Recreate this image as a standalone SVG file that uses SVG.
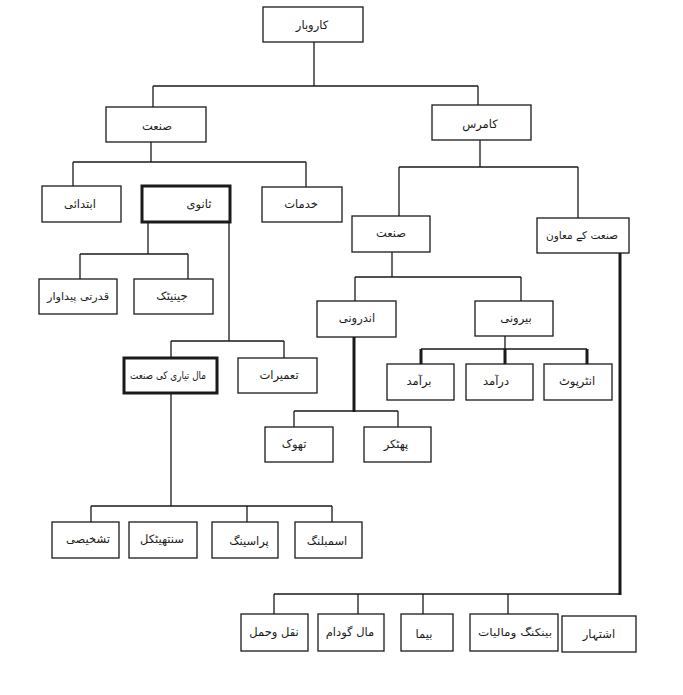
<svg xmlns="http://www.w3.org/2000/svg" width="683" height="695" viewBox="0 0 683 695">
<style>
.bg{fill:#ffffff}
.box rect{fill:#ffffff;stroke:#1a1a1a;stroke-width:1.3}
.box.thick rect{stroke-width:3}
.box text{font-family:"DejaVu Sans",sans-serif;font-size:11.5px;fill:#1a1a1a;text-anchor:middle;direction:rtl}
.box text.long{font-size:10.5px}
#connectors path{fill:none;stroke:#1a1a1a;stroke-width:1.3}
#connectors path.heavy{stroke-width:3}
</style>
<rect class="bg" x="0" y="0" width="683" height="695"/>
<g id="connectors">
<path d="M314,42V86M153,86H478M153,86V107M478,86V105"/>
<path d="M151,142V162M73,162H306M73,162V186M306,162V187"/>
<path d="M480,140V167M399,167H578M399,167V216M578,167V218"/>
<path d="M148,222V254M80,254H188M80,254V279M188,254V279"/>
<path d="M229,222V341M171,341H284M171,341V358M284,341V358"/>
<path d="M392,252V277M355,277H521M355,277V301M521,277V301"/>
<path class="heavy" d="M354,337V412"/>
<path d="M294,411H398M294,411V427M398,411V427"/>
<path d="M505,336V349M421,349H587"/>
<path class="heavy" d="M421,349V364M505,349V364M587,349V364"/>
<path d="M171,393V506M91,506H332M91,506V522M247,506V522M332,506V522"/>
<path class="heavy" d="M620,253V595"/>
<path d="M274,594H620M274,594V614M358,594V614M423,594V614M508,594V614"/>
</g>
<g id="n-karobar" class="box"><rect x="263" y="7" width="100" height="35"/><text x="312" y="29">کاروبار</text></g>
<g id="n-sanat" class="box"><rect x="106" y="107" width="100" height="35"/><text x="157" y="130">صنعت</text></g>
<g id="n-commerce" class="box"><rect x="432" y="105" width="99" height="35"/><text x="480" y="128">کامرس</text></g>
<g id="n-ibtidai" class="box"><rect x="42" y="186" width="79" height="36"/><text x="80" y="208">ابتدائی</text></g>
<g id="n-sanvi" class="box thick"><rect x="142" y="186" width="88" height="36"/><text x="199" y="208">ثانوی</text></g>
<g id="n-khidmat" class="box"><rect x="262" y="187" width="80" height="35"/><text x="301" y="208">خدمات</text></g>
<g id="n-sanat2" class="box"><rect x="352" y="216" width="78" height="36"/><text x="391" y="237">صنعت</text></g>
<g id="n-muawin" class="box"><rect x="537" y="218" width="92" height="35"/><text class="long" x="582" y="239" textLength="72" lengthAdjust="spacingAndGlyphs">صنعت کے معاون</text></g>
<g id="n-qudrati" class="box"><rect x="39" y="279" width="78" height="35"/><text class="long" x="78" y="300" textLength="62" lengthAdjust="spacingAndGlyphs">قدرتی پیداوار</text></g>
<g id="n-genetic" class="box"><rect x="134" y="279" width="79" height="35"/><text x="172" y="300">جینیٹک</text></g>
<g id="n-androoni" class="box"><rect x="317" y="301" width="79" height="36"/><text x="357" y="322">اندرونی</text></g>
<g id="n-beroni" class="box"><rect x="475" y="301" width="78" height="35"/><text x="516" y="322">بیرونی</text></g>
<g id="n-maaltiyari" class="box thick"><rect x="124" y="358" width="93" height="35"/><text class="long" x="168" y="379" textLength="76" lengthAdjust="spacingAndGlyphs">مال تیاری کی صنعت</text></g>
<g id="n-tameerat" class="box"><rect x="238" y="358" width="79" height="35"/><text x="279" y="379">تعمیرات</text></g>
<g id="n-baramad" class="box"><rect x="387" y="364" width="67" height="36"/><text x="419" y="385">برآمد</text></g>
<g id="n-daramad" class="box"><rect x="466" y="364" width="67" height="36"/><text x="496" y="385">درآمد</text></g>
<g id="n-interport" class="box"><rect x="544" y="364" width="68" height="36"/><text x="577" y="385">انٹرپوٹ</text></g>
<g id="n-thok" class="box"><rect x="265" y="427" width="68" height="35"/><text x="294" y="448">تھوک</text></g>
<g id="n-phutkar" class="box"><rect x="364" y="427" width="67" height="35"/><text x="396" y="448">پھٹکر</text></g>
<g id="n-tashkheesi" class="box"><rect x="52" y="522" width="67" height="36"/><text x="88" y="543">تشخیصی</text></g>
<g id="n-synthetical" class="box"><rect x="129" y="522" width="68" height="36"/><text x="162" y="543">سنتھیٹکل</text></g>
<g id="n-processing" class="box"><rect x="212" y="522" width="66" height="36"/><text x="249" y="545">پراسینگ</text></g>
<g id="n-assembling" class="box"><rect x="295" y="522" width="67" height="36"/><text x="327" y="545">اسمبلنگ</text></g>
<g id="n-naqlohamal" class="box"><rect x="241" y="614" width="67" height="37"/><text x="274" y="636">نقل وحمل</text></g>
<g id="n-maalgodam" class="box"><rect x="318" y="614" width="66" height="37"/><text x="350" y="636">مال گودام</text></g>
<g id="n-beema" class="box"><rect x="401" y="614" width="52" height="37"/><text x="424" y="638">بیما</text></g>
<g id="n-banking" class="box"><rect x="470" y="614" width="88" height="37"/><text class="long" x="515" y="636" textLength="74" lengthAdjust="spacingAndGlyphs">بینکنگ ومالیات</text></g>
<g id="n-ishtehar" class="box"><rect x="562" y="616" width="74" height="36"/><text x="599" y="638">اشتہار</text></g>
</svg>
